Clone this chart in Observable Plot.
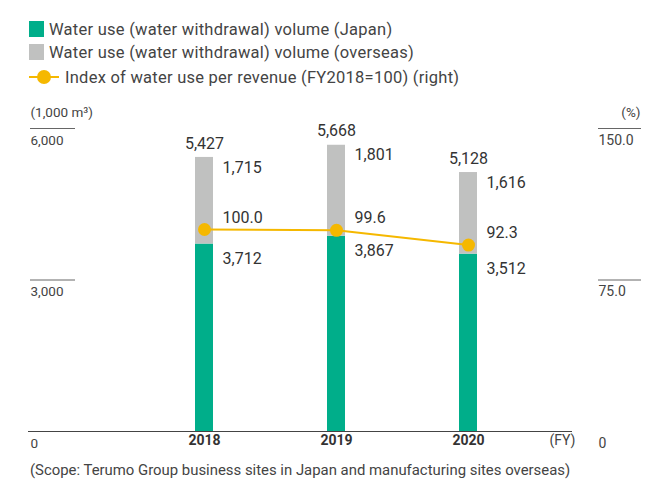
<!DOCTYPE html>
<html><head><meta charset="utf-8">
<script src="https://cdn.jsdelivr.net/npm/d3@7"></script>
<script src="https://cdn.jsdelivr.net/npm/@observablehq/plot@0.6"></script>
<style>
body{margin:0;background:#fff;font-family:Roboto,"Noto Sans",sans-serif;}
#wrap{position:relative;width:668px;height:489px;overflow:hidden;}
#chart{position:absolute;left:0;top:0;}
.lg{position:absolute;left:29px;font-size:16.5px;letter-spacing:0.25px;color:#444;white-space:nowrap;display:flex;align-items:center;height:20px;}
.sw{display:inline-block;width:15px;height:16px;margin-right:5px;}
.ln{position:relative;display:inline-block;width:30px;height:14px;margin-right:6px;}
.ln:before{content:"";position:absolute;left:0;right:0;top:6px;height:2px;background:#F5B800;}
.ln:after{content:"";position:absolute;left:8px;top:0;width:14px;height:14px;border-radius:50%;background:#F5B800;}
#caption{position:absolute;left:30px;top:461px;font-size:14.9px;color:#444;white-space:nowrap;}
</style></head>
<body>
<div id="wrap">
  <div id="chart"></div>
  <div id="legend"></div>
  <div id="caption"></div>
</div>
<script>
// ---- data ----
const years = ["2018", "2019", "2020"];
const japan = [3712, 3867, 3512];
const overseas = [1715, 1801, 1616];
const totals = [5427, 5668, 5128];
const indexValues = [100.0, 99.6, 92.3];
const leftTicks = [0, 3000, 6000];
const rightTicks = [0, 75, 150];
const seriesNames = [
  "Water use (water withdrawal) volume (Japan)",
  "Water use (water withdrawal) volume (overseas)",
  "Index of water use per revenue (FY2018=100) (right)"
];
const leftUnit = "(1,000 m³)";
const rightUnit = "(%)";
const xUnit = "(FY)";
const captionText = "(Scope: Terumo Group business sites in Japan and manufacturing sites overseas)";

// ---- styles ----
const cJapan = "#00AE8A", cOver = "#C0C1C0", cIdx = "#F5B800", cText = "#444";
const W = 668, H = 489, mL = 28, mR = 27, mT = 128, mB = 58;
const frameW = W - mL - mR;
const K = leftTicks[2] / rightTicks[2]; // map right-axis % to left units

const rows = years.map((y, i) => ({year: y, japan: japan[i], overseas: overseas[i], total: totals[i], idx: indexValues[i]}));
const fmt = d3.format(",");

const plot = Plot.plot({
  width: W, height: H,
  marginLeft: mL, marginRight: mR, marginTop: mT, marginBottom: mB,
  style: {fontFamily: "Roboto, 'Noto Sans', sans-serif", color: cText, background: "transparent"},
  x: {type: "band", domain: years, range: [138, 534], paddingInner: 0.8636, paddingOuter: 0.4318, axis: null},
  y: {domain: [0, leftTicks[2]], axis: null},
  marks: [
    // axis stubs
    Plot.ruleY(leftTicks.slice(1), {stroke: "#666", strokeWidth: 1, insetLeft: 2, insetRight: frameW - 47}),
    Plot.ruleY(rightTicks.slice(1).map(v => v * K), {stroke: "#666", strokeWidth: 1, insetLeft: frameW - 43}),
    // bars
    Plot.rectY(rows, {x: "year", y1: 0, y2: "japan", fill: cJapan}),
    Plot.rectY(rows, {x: "year", y1: "japan", y2: "total", fill: cOver}),
    // baseline
    Plot.ruleY([0], {stroke: "#444", strokeWidth: 1, insetRight: 69}),
    // index line
    Plot.line(rows, {x: "year", y: d => d.idx * K, stroke: cIdx, strokeWidth: 2}),
    Plot.dot(rows, {x: "year", y: d => d.idx * K, r: 6.5, fill: cIdx}),
    // value labels
    Plot.text(rows, {x: "year", y: "total", text: d => fmt(d.total), dy: -14, fontSize: 16, fill: "#333"}),
    Plot.text(rows, {x: "year", y: "total", text: d => fmt(d.overseas), dx: 18, dy: 10, textAnchor: "start", fontSize: 16, fill: "#333"}),
    Plot.text(rows, {x: "year", y: "japan", text: d => fmt(d.japan), dx: 18, dy: 15, textAnchor: "start", fontSize: 16, fill: "#333"}),
    Plot.text(rows, {x: "year", y: d => d.idx * K, text: d => d.idx.toFixed(1), dx: 18, dy: -12, textAnchor: "start", fontSize: 16, fill: "#333"}),
    // x labels
    Plot.text(years, {x: d => d, frameAnchor: "bottom", dy: 13, fontSize: 14, fontWeight: "bold", fill: "#333"}),
    Plot.text([xUnit], {frameAnchor: "bottom-right", dx: -66, dy: 13, textAnchor: "end", fontSize: 14, fill: cText}),
    // left axis labels
    Plot.text(leftTicks, {y: d => d, text: d => fmt(d), frameAnchor: "left", textAnchor: "start", dx: 2, dy: 12, fontSize: 13.5, fill: cText}),
    Plot.text([leftUnit], {y: () => leftTicks[2], frameAnchor: "left", textAnchor: "start", dx: 2, dy: -16, fontSize: 13.5, fill: cText}),
    // right axis labels
    Plot.text(rightTicks, {y: d => d * K, text: d => d === 0 ? "0" : d.toFixed(1), frameAnchor: "right", textAnchor: "start", dx: -43, dy: 12, fontSize: 14, fill: cText}),
    Plot.text([rightUnit], {y: () => leftTicks[2], frameAnchor: "right", textAnchor: "end", dx: -1, dy: -16, fontSize: 13.5, fill: cText})
  ]
});
document.getElementById("chart").appendChild(plot);

// legend
const lg = document.getElementById("legend");
const tops = [19, 42, 67];
[cJapan, cOver, null].forEach((c, i) => {
  const row = document.createElement("div");
  row.className = "lg";
  row.style.top = tops[i] + "px";
  const m = document.createElement("span");
  if (c) { m.className = "sw"; m.style.background = c; }
  else { m.className = "ln"; }
  row.appendChild(m);
  row.appendChild(document.createTextNode(seriesNames[i]));
  lg.appendChild(row);
});
document.getElementById("caption").textContent = captionText;
</script>
</body></html>
